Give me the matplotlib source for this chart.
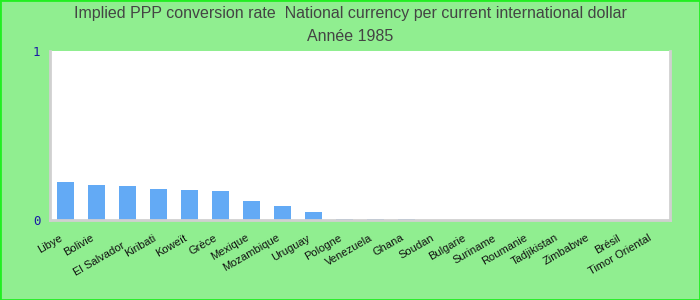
import numpy as np
import matplotlib
matplotlib.use("Agg")
import matplotlib.pyplot as plt

# données
pays = ["Libye", "Bolivie", "El Salvador", "Kiribati", "Koweït", "Grèce",
        "Mexique", "Mozambique", "Uruguay", "Pologne", "Venezuela", "Ghana",
        "Soudan", "Bulgarie", "Suriname", "Roumanie", "Tadjikistan",
        "Zimbabwe", "Brésil", "Timor Oriental"]
valeurs = [0.225, 0.207, 0.201, 0.183, 0.178, 0.172, 0.112, 0.083, 0.047,
           0.007, 0.007, 0.006, 0, 0, 0, 0, 0, 0, 0, 0]
# étiquette décalée vers le bas
decalees = ["El Salvador"]

fond = "#90ee90"
fig = plt.figure(figsize=(7, 3), dpi=100, facecolor=fond)
ax = fig.add_axes([50 / 700, 80 / 300, 620 / 700, 169 / 300])
ax.set_facecolor("white")

x = np.arange(len(pays))
ax.bar(x, valeurs, width=0.55, color="#63aaf5")
ax.set_xlim(-0.5, len(pays) - 0.5)
ax.set_ylim(0, 1)

ax.set_yticks([0, 1])
ax.set_yticklabels(["0", "1"], color="#1a1aa6", fontsize=9, family="DejaVu Sans Mono")
ax.tick_params(axis="y", length=0, pad=7)
ax.tick_params(axis="x", length=0)
ax.set_xticks(x)
ax.set_xticklabels([])

for i, p in enumerate(pays):
    dy = -0.12 if p in decalees else -0.075
    ax.text(i - 0.2, dy, p, rotation=30, ha="right", va="top", fontsize=8,
            color="#111111", rotation_mode="anchor", family="Liberation Sans",
            transform=ax.get_xaxis_transform())

for s in ["left", "bottom", "right"]:
    ax.spines[s].set_color("#d0d0d0")
    ax.spines[s].set_linewidth(2)
ax.spines["top"].set_visible(False)

fig.text(0.5, 0.955, "Implied PPP conversion rate  National currency per current international dollar",
         ha="center", va="center", fontsize=11.5, color="#444444", family="Liberation Sans")
fig.text(0.5, 0.878, "Année 1985", ha="center", va="center", fontsize=11.5,
         color="#444444", family="Liberation Sans")

# bordure verte
fig.patches.append(plt.Rectangle((0, 0), 1, 1, transform=fig.transFigure,
                                 fill=False, edgecolor="#22ee22", linewidth=2))

fig.savefig("out.png", dpi=100, facecolor=fond)
